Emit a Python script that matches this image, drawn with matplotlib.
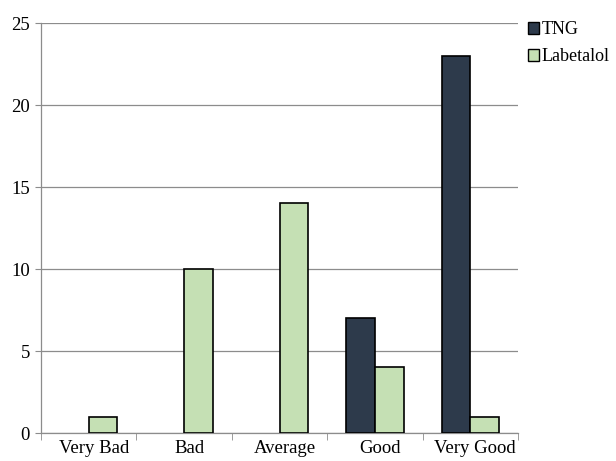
import numpy as np
import matplotlib.pyplot as plt
import matplotlib.transforms as mtransforms
from matplotlib.patches import Patch

categories = ['Very Bad', 'Bad', 'Average', 'Good', 'Very Good']
tng = [0, 0, 0, 7, 23]
labetalol = [1, 10, 14, 4, 1]

plt.rcParams['font.family'] = ['Liberation Serif', 'DejaVu Serif']

fig = plt.figure(figsize=(6.16, 4.61), dpi=100)
ax = fig.add_axes([41/616, 28/461, 477/616, 410/461])

x = np.arange(len(categories))
w = 0.3
# zero-height bars get no outline so nothing shows on the baseline
lw_tng = [1.2 if v > 0 else 0 for v in tng]
lw_lab = [1.2 if v > 0 else 0 for v in labetalol]
ax.bar(x - w/2, tng, w, color='#2d3a4b', edgecolor='black', linewidth=lw_tng, label='TNG', zorder=3)
ax.bar(x + w/2, labetalol, w, color='#c5e0b4', edgecolor='black', linewidth=lw_lab, label='Labetalol', zorder=3)

ax.set_xlim(-0.5, 4.5)
ax.set_ylim(0, 25)
ax.set_yticks([0, 5, 10, 15, 20, 25])
ax.yaxis.grid(True, color='#8c8c8c', linewidth=0.9, zorder=0)

ax.set_xticks(x)
ax.set_xticklabels(categories)
ax.set_xticks(np.arange(-0.5, 5, 1), minor=True)
ax.tick_params(axis='x', which='major', length=0, labelsize=13.5, pad=5)
ax.tick_params(axis='x', which='minor', length=5, color='#8c8c8c')
ax.tick_params(axis='y', length=4, color='#8c8c8c', labelsize=13.5, pad=4)

# category labels sit a little right of the group centres
shift = mtransforms.ScaledTranslation(5/100, 0, fig.dpi_scale_trans)
for lab in ax.get_xticklabels():
    lab.set_transform(lab.get_transform() + shift)

for s in ['top', 'right']:
    ax.spines[s].set_visible(False)
for s in ['left', 'bottom']:
    ax.spines[s].set_color('#8c8c8c')
    ax.spines[s].set_linewidth(0.9)

handles = [Patch(facecolor='#2d3a4b', edgecolor='black', label='TNG'),
           Patch(facecolor='#c5e0b4', edgecolor='black', label='Labetalol')]
fig.legend(handles=handles, loc='upper left', bbox_to_anchor=(521/616, 1 - 14/461),
           frameon=False, fontsize=13, handlelength=0.6, handleheight=0.6,
           handletextpad=0.15, labelspacing=0.55, borderaxespad=0)

fig.savefig('out.png', dpi=100)
